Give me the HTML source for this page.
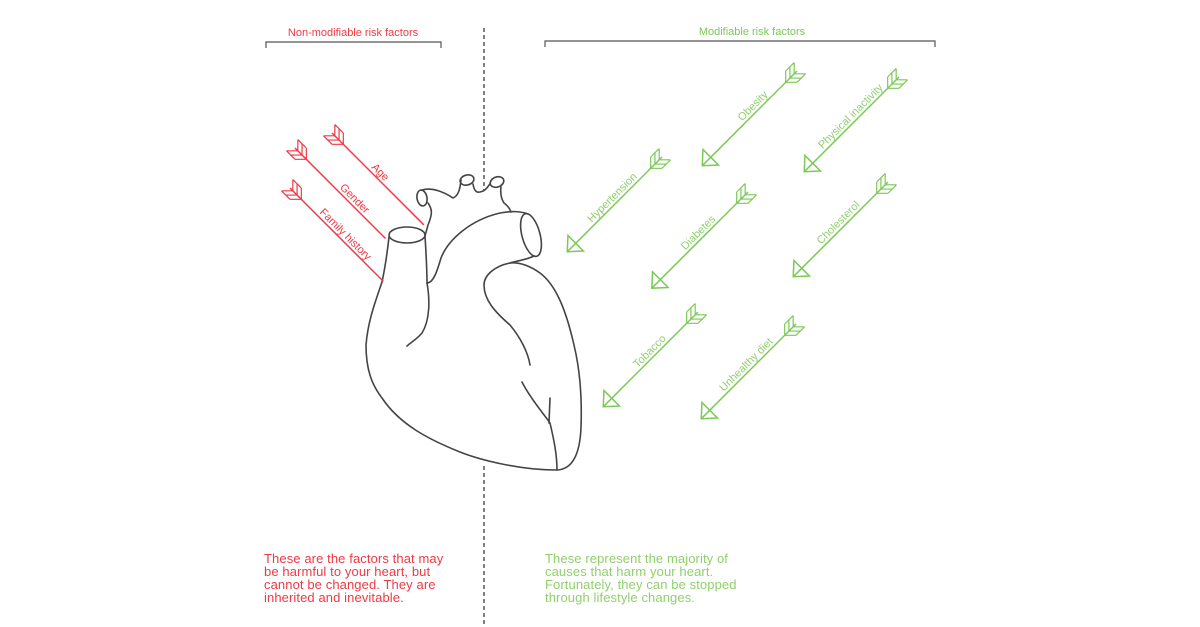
<!DOCTYPE html>
<html><head><meta charset="utf-8"><style>
html,body{margin:0;padding:0;background:#fff;}
svg{display:block;}
text{font-family:"Liberation Sans",sans-serif;}
</style></head><body>
<svg width="1200" height="627" viewBox="0 0 1200 627" xmlns="http://www.w3.org/2000/svg">
<defs>
  <g id="fl">
    <path d="M0,0 l-8,-8 M0,0 l-8,8 M6,0 l-8,-8 M6,0 l-8,8 M12,0 l-8,-8 M12,0 l-8,8 M-8,-8 l12,0 M-8,8 l12,0" fill="none" stroke-width="1.2"/>
  </g>
</defs>
<text x="353" y="36" font-size="11" fill="#ee3a45" text-anchor="middle">Non-modifiable risk factors</text>
<path d="M266,48 V42 H441 V48" fill="none" stroke="#555" stroke-width="1.2"/>
<text x="752" y="35" font-size="11" fill="#7cc858" text-anchor="middle">Modifiable risk factors</text>
<path d="M545,47 V41 H935 V47" fill="none" stroke="#555" stroke-width="1.2"/>
<line x1="484" y1="28" x2="484" y2="190" stroke="#555" stroke-width="1.5" stroke-dasharray="4,3"/>
<line x1="484" y1="466" x2="484" y2="627" stroke="#555" stroke-width="1.5" stroke-dasharray="4,3"/>

<g fill="none" stroke="#444" stroke-width="1.6" stroke-linecap="round">
  <ellipse cx="407" cy="235" rx="18" ry="8"/>
  <path d="M389,237 C387,255 385,268 382,282 C376,300 368,320 366,345 C366,370 372,385 382,398 C400,425 430,440 460,452 C480,460 520,470 556,470 C572,470 580,455 581,427 C582,400 580,370 574,345 C566,310 556,285 540,273 C530,266 520,262 510,263"/>
  <path d="M425,236 C426,252 427,270 427,283 C430,300 430,320 422,333 C416,340 410,343 407,346"/>
  <path d="M425,236 L428,225 C432,215 433,210 428,203"/>
  <ellipse cx="422" cy="198" rx="5" ry="8" transform="rotate(-10 422 198)"/>
  <path d="M422,190 C432,187 444,192 453,198 C458,196 460,190 461,180"/>
  <ellipse cx="467" cy="180" rx="7" ry="5" transform="rotate(-15 467 180)"/>
  <path d="M473,184 C474,190 476,193 480,192 C486,191 488,186 490,184"/>
  <ellipse cx="497" cy="182" rx="7" ry="5" transform="rotate(-20 497 182)"/>
  <path d="M501,187 C500,195 502,200 504,203 C508,206 510,209 511,212"/>
  <path d="M427,283 C434,283 438,268 441,258 C448,240 470,220 500,213 C512,211 520,211 528,214"/>
  <ellipse cx="531" cy="235" rx="9" ry="22" transform="rotate(-15 531 235)"/>
  <path d="M534,256 C526,260 516,261 510,263 C495,266 484,275 484,285 C484,300 495,312 510,325 C520,337 528,352 530,365"/>
  <path d="M522,382 C530,398 543,413 550,423 C554,440 557,455 557,470"/>
  <path d="M550,398 L549,423"/>
</g>

<g stroke="#ee3a45" stroke-width="1.5" fill="#ee3a45">
  <g transform="translate(332,133) rotate(45)">
    <line x1="0" y1="0" x2="130" y2="0"/>
    <use href="#fl" transform="translate(4,0)" fill="none"/>
    <text x="62" y="-3" font-size="11" stroke="none" text-anchor="middle">Age</text>
  </g>
  <g transform="translate(295,148) rotate(45)">
    <line x1="0" y1="0" x2="128" y2="0"/>
    <use href="#fl" transform="translate(4,0)" fill="none"/>
    <text x="78" y="-3" font-size="11" stroke="none" text-anchor="middle">Gender</text>
  </g>
  <g transform="translate(290,188) rotate(45)">
    <line x1="0" y1="0" x2="132" y2="0"/>
    <use href="#fl" transform="translate(4,0)" fill="none"/>
    <text x="72" y="-3" font-size="11" stroke="none" text-anchor="middle">Family history</text>
  </g>
</g>

<g stroke="#7cc858" stroke-width="1.5" fill="#8fd06c">
  <g transform="translate(662,157) rotate(135)">
    <line x1="0" y1="0" x2="133" y2="0"/>
    <use href="#fl" transform="translate(4,0)" fill="none"/>
    <path d="M122,-11 L134,0 L122,11 Z" fill="none"/>
    <text transform="translate(64,3) rotate(180)" font-size="11" stroke="none" text-anchor="middle">Hypertension</text>
  </g>
  <g transform="translate(797,71) rotate(135)">
    <line x1="0" y1="0" x2="133" y2="0"/>
    <use href="#fl" transform="translate(4,0)" fill="none"/>
    <path d="M122,-11 L134,0 L122,11 Z" fill="none"/>
    <text transform="translate(56,3) rotate(180)" font-size="11" stroke="none" text-anchor="middle">Obesity</text>
  </g>
  <g transform="translate(899,77) rotate(135)">
    <line x1="0" y1="0" x2="133" y2="0"/>
    <use href="#fl" transform="translate(4,0)" fill="none"/>
    <path d="M122,-11 L134,0 L122,11 Z" fill="none"/>
    <text transform="translate(62,3) rotate(180)" font-size="11" stroke="none" text-anchor="middle">Physical inactivity</text>
  </g>
  <g transform="translate(748,192) rotate(135)">
    <line x1="0" y1="0" x2="135" y2="0"/>
    <use href="#fl" transform="translate(4,0)" fill="none"/>
    <path d="M124,-11 L136,0 L124,11 Z" fill="none"/>
    <text transform="translate(64,3) rotate(180)" font-size="11" stroke="none" text-anchor="middle">Diabetes</text>
  </g>
  <g transform="translate(888,182) rotate(135)">
    <line x1="0" y1="0" x2="133" y2="0"/>
    <use href="#fl" transform="translate(4,0)" fill="none"/>
    <path d="M122,-11 L134,0 L122,11 Z" fill="none"/>
    <text transform="translate(64,3) rotate(180)" font-size="11" stroke="none" text-anchor="middle">Cholesterol</text>
  </g>
  <g transform="translate(698,312) rotate(135)">
    <line x1="0" y1="0" x2="133" y2="0"/>
    <use href="#fl" transform="translate(4,0)" fill="none"/>
    <path d="M122,-11 L134,0 L122,11 Z" fill="none"/>
    <text transform="translate(62,3) rotate(180)" font-size="11" stroke="none" text-anchor="middle">Tobacco</text>
  </g>
  <g transform="translate(796,324) rotate(135)">
    <line x1="0" y1="0" x2="133" y2="0"/>
    <use href="#fl" transform="translate(4,0)" fill="none"/>
    <path d="M122,-11 L134,0 L122,11 Z" fill="none"/>
    <text transform="translate(64,3) rotate(180)" font-size="11" stroke="none" text-anchor="middle">Unhealthy diet</text>
  </g>
</g>

<g font-size="13" fill="#ee3a45" letter-spacing="0.1">
  <text x="264" y="563">These are the factors that may</text>
  <text x="264" y="576">be harmful to your heart, but</text>
  <text x="264" y="589">cannot be changed. They are</text>
  <text x="264" y="602">inherited and inevitable.</text>
</g>
<g font-size="13" fill="#8fd06c" letter-spacing="0.1">
  <text x="545" y="563">These represent the majority of</text>
  <text x="545" y="576">causes that harm your heart.</text>
  <text x="545" y="589">Fortunately, they can be stopped</text>
  <text x="545" y="602">through lifestyle changes.</text>
</g>
</svg>
</body></html>
